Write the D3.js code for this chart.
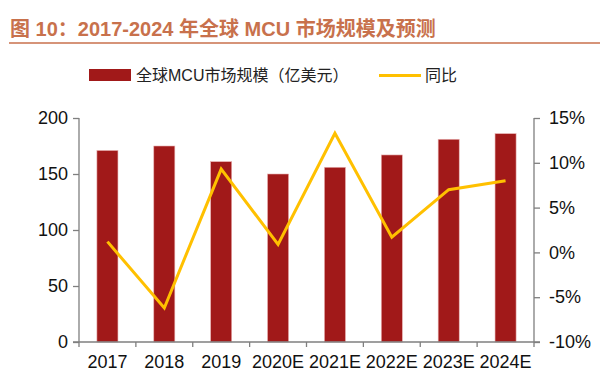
<!DOCTYPE html>
<html>
<head>
<meta charset="utf-8">
<script src="https://cdn.jsdelivr.net/npm/d3@7"></script>
<style>
  body { margin: 0; background: #fff; }
  svg { display: block; font-family: "Liberation Sans", Arial, "Noto Sans CJK SC", sans-serif; }
</style>
</head>
<body>
<svg id="chart"></svg>
<script>
const W = 600
const H = 389
const margins = { top: 118, bottom: 47, left: 79, right: 66 }
const w = W - margins.left - margins.right
const h = H - margins.top - margins.bottom

const years = ['2017', '2018', '2019', '2020E', '2021E', '2022E', '2023E', '2024E']
const marketSize = [171, 175, 161, 150, 156, 167, 181, 186]
const yoy = [1.2, -6.2, 9.3, 0.9, 13.3, 1.7, 7.0, 8.0]
const leftTicks = [0, 50, 100, 150, 200]
const rightTicks = [-10, -5, 0, 5, 10, 15]

const barColor = '#A11919'
const lineColor = '#FFC000'
const axisColor = '#7f7f7f'
const titleColor = '#C8714C'

const svg = d3.select('#chart').attr('width', W).attr('height', H)

// title
svg.append('text')
  .attr('x', 10)
  .attr('y', 36)
  .attr('fill', titleColor)
  .attr('font-size', 20)
  .attr('font-weight', 'bold')
  .attr('font-family', '"Liberation Sans", "Noto Sans CJK SC", sans-serif')
  .text('图 10：2017-2024 年全球 MCU 市场规模及预测')

svg.append('line')
  .attr('x1', 9).attr('x2', W)
  .attr('y1', 43).attr('y2', 43)
  .attr('stroke', titleColor)
  .attr('stroke-width', 1.5)

// legend
const legend = svg.append('g').attr('font-size', 16).attr('fill', '#222')
  .attr('font-family', '"Liberation Sans", "Noto Sans CJK SC", sans-serif')
legend.append('rect')
  .attr('x', 89).attr('y', 69).attr('width', 42).attr('height', 12)
  .attr('fill', barColor)
legend.append('text').attr('x', 136).attr('y', 81).text('全球MCU市场规模（亿美元）')
legend.append('line')
  .attr('x1', 379).attr('x2', 421).attr('y1', 75.5).attr('y2', 75.5)
  .attr('stroke', lineColor).attr('stroke-width', 3)
legend.append('text').attr('x', 425).attr('y', 81).text('同比')

const inner = svg.append('g')
  .attr('transform', 'translate(' + margins.left + ',' + margins.top + ')')

const xScale = d3.scaleBand().domain(years).range([0, w])
const yLeft = d3.scaleLinear().domain([0, 200]).range([h, 0])
const yRight = d3.scaleLinear().domain([-10, 15]).range([h, 0])

// bars
inner.selectAll('rect.bar')
  .data(years)
  .enter()
  .append('rect')
  .attr('class', 'bar')
  .attr('x', d => xScale(d) + xScale.bandwidth() * 0.315)
  .attr('width', xScale.bandwidth() * 0.37)
  .attr('y', (d, i) => yLeft(marketSize[i]))
  .attr('height', (d, i) => h - yLeft(marketSize[i]))
  .attr('fill', barColor)
  .attr('stroke', '#e8b0b0')
  .attr('stroke-width', 0.6)

// axes
const leftAxis = d3.axisLeft(yLeft).tickValues(leftTicks).tickSize(6).tickPadding(5)
const rightAxis = d3.axisRight(yRight).tickValues(rightTicks).tickSize(6).tickPadding(9)
  .tickFormat(d => d + '%')
const bottomAxis = d3.axisBottom(xScale).tickSize(5).tickPadding(8)

function style(g) {
  g.select('.domain').attr('stroke', axisColor).attr('stroke-width', 1.3)
  g.selectAll('.tick line').attr('stroke', axisColor).attr('stroke-width', 1.3)
  g.selectAll('.tick text').attr('fill', '#111').attr('font-size', 18)
    .attr('font-family', '"Liberation Sans", Arial, sans-serif')
}

inner.append('g').call(leftAxis).call(style).call(g => g.select('.domain').attr('d', 'M0,0V' + h))
inner.append('g').attr('transform', 'translate(' + w + ',0)').call(rightAxis).call(style)
  .call(g => g.select('.domain').attr('d', 'M0,0V' + h))

const bx = inner.append('g').attr('transform', 'translate(0,' + h + ')').call(bottomAxis).call(style)
bx.select('.domain').attr('d', 'M-6,0H' + (w + 6))
bx.selectAll('.tick line').attr('transform', 'translate(' + (-xScale.bandwidth() / 2) + ',0)')
bx.append('line').attr('x1', w).attr('x2', w).attr('y1', 0).attr('y2', 5)
  .attr('stroke', axisColor).attr('stroke-width', 1.3)

// yoy line
const line = d3.line()
  .x((d, i) => xScale(years[i]) + xScale.bandwidth() / 2)
  .y(d => yRight(d))

inner.append('path')
  .datum(yoy)
  .attr('d', line)
  .attr('fill', 'none')
  .attr('stroke', lineColor)
  .attr('stroke-width', 3)
  .attr('stroke-linejoin', 'miter')
</script>
</body>
</html>
